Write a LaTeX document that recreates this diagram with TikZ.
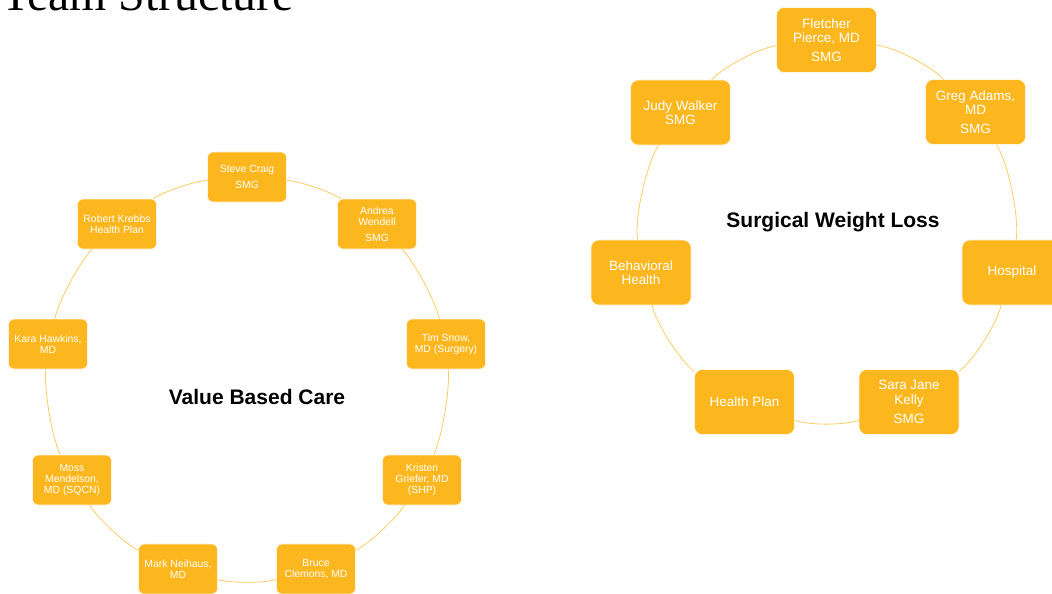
\documentclass[tikz,border=0pt]{standalone}
\usepackage{fontspec}
\setmainfont{Liberation Sans}
\newfontfamily\titlefont{Liberation Serif}
\definecolor{gold}{RGB}{253,183,30}
\definecolor{arcgold}{RGB}{252,204,100}
\tikzset{
  member/.style={fill=gold, draw=white!85!gold, line width=0.4pt, rounded corners=4.5pt,
    minimum width=59.25pt, minimum height=37.5pt, inner sep=1pt, align=center,
    text=white, font=\fontsize{7.8}{8.25}\selectfont},
  bigmember/.style={fill=gold, draw=white!85!gold, line width=0.4pt, rounded corners=6pt,
    minimum width=75pt, minimum height=48.75pt, inner sep=1pt, align=center,
    text=white, font=\fontsize{10.1}{10.9}\selectfont},
  ring/.style={draw=arcgold, line width=0.6pt},
  heading/.style={font=\bfseries\fontsize{15.75}{18}\selectfont, text=black}
}
\begin{document}
\begin{tikzpicture}[x=0.75pt,y=-0.75pt]
\useasboundingbox (0,0) rectangle (1052,593);
\clip (0,0) rectangle (1052,593);
\node[anchor=base west, inner sep=0pt, font=\titlefont\fontsize{35.8}{40}\selectfont] (title) at (1,10) {Team Structure};

% Value Based Care ring
\node[heading] (vbc) at (257,397) {Value Based Care};
\node[member] (steve) at (247,177) {Steve Craig\\[3.75pt]SMG};
\node[member] (andrea) at (377,224) {Andrea\\Wendell\\[3.75pt]SMG};
\node[member] (tim) at (446,344) {Tim Snow,\\MD (Surgery)};
\node[member] (kristen) at (422,480) {Kristen\\Griefer, MD\\(SHP)};
\node[member] (bruce) at (316,569) {Bruce\\Clemons, MD};
\node[member] (mark) at (178,569) {Mark Neihaus,\\MD};
\node[member] (moss) at (72,480) {Moss\\Mendelson,\\MD (SQCN)};
\node[member] (kara) at (48,344) {Kara Hawkins,\\MD};
\node[member] (robert) at (117,224) {Robert Krebbs\\Health Plan};
\foreach \a/\b in {steve/andrea, andrea/tim, tim/kristen, kristen/bruce, bruce/mark, mark/moss, moss/kara, kara/robert, robert/steve}
  \draw[ring] (\a) to[bend left=15, looseness=0.6] (\b);

% Surgical Weight Loss ring
\node[heading] (swl) at (833,222) {Surgical Weight Loss};
\node[bigmember] (fletcher) at (826.5,40) {Fletcher\\Pierce, MD\\[3.4pt]SMG};
\node[bigmember] (greg) at (975.5,112) {Greg Adams,\\MD\\[3.4pt]SMG};
\node[bigmember] (hospital) at (1012,272.5) {Hospital};
\node[bigmember] (sara) at (909,402) {Sara Jane\\Kelly\\[3.4pt]SMG};
\node[bigmember] (healthplan) at (744.5,402) {Health Plan};
\node[bigmember] (behavioral) at (641,272.5) {Behavioral\\Health};
\node[bigmember] (judy) at (680.5,112.5) {Judy Walker\\SMG};
\foreach \a/\b in {fletcher/greg, greg/hospital, hospital/sara, sara/healthplan, healthplan/behavioral, behavioral/judy, judy/fletcher}
  \draw[ring] (\a) to[bend left=20, looseness=0.6] (\b);
\end{tikzpicture}
\end{document}
